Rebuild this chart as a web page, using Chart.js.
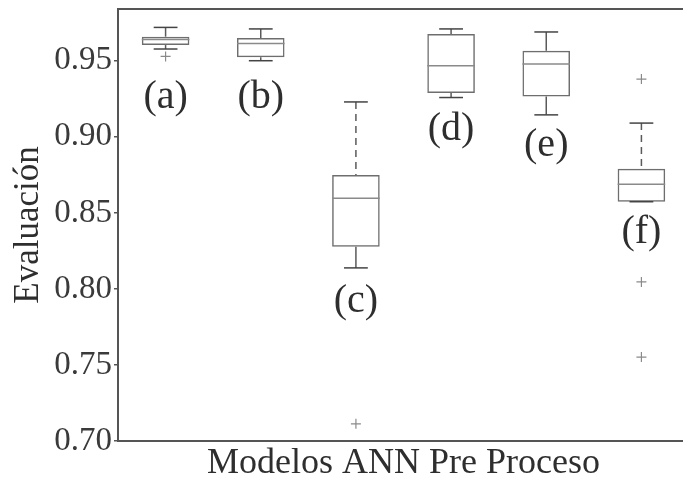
<!DOCTYPE html>
<html><head><meta charset="utf-8">
<script src="https://cdn.jsdelivr.net/npm/chart.js@4"></script>
<style>html,body{margin:0;padding:0;background:#fff;overflow:hidden}
#wrap{width:700px;height:485px;position:relative}</style>
</head><body><div id="wrap"><canvas id="c"></canvas></div>
<script>
const categories = ['(a)','(b)','(c)','(d)','(e)','(f)'];
const whiskerHigh = [0.9719,0.9709,0.9229,0.9709,0.9689,0.9090];
const q3          = [0.9658,0.9650,0.8749,0.9676,0.9566,0.8789];
const median      = [0.9640,0.9614,0.8596,0.9467,0.9478,0.8688];
const q1          = [0.9603,0.9522,0.8277,0.9287,0.9265,0.8573];
const whiskerLow  = [0.9577,0.9500,0.8138,0.9258,0.9144,0.8573];
const outliers    = [[0.9528],[],[0.7113],[],[],[0.9379,0.8046,0.7552]];
const labelAnchor = [0.919,0.919,0.7847,0.8982,0.8874,0.8301];
const yTicks = [0.70,0.75,0.80,0.85,0.90,0.95];
const yMin = 0.70, yMax = 0.984;

const serif = '"Liberation Serif", "DejaVu Serif", serif';

const outlierPoints = [];
outliers.forEach((arr,i)=>arr.forEach(v=>outlierPoints.push({x:categories[i], y:v})));

const boxPlugin = {
  id:'boxParts',
  afterDatasetsDraw(chart){
    const ctx=chart.ctx, xs=chart.scales.x, ys=chart.scales.y;
    const meta=chart.getDatasetMeta(0);
    ctx.save();
    categories.forEach((c,i)=>{
      const x=xs.getPixelForValue(i);
      const w=meta.data[i].width;
      const capHalf=w/4;
      ctx.lineWidth=1.5;
      [[q3[i],whiskerHigh[i]],[q1[i],whiskerLow[i]]].forEach(([a,b])=>{
        const ya=ys.getPixelForValue(a), yb=ys.getPixelForValue(b);
        const len=Math.abs(yb-ya);
        ctx.strokeStyle='#5a5a5a';
        if(len>0.5){
          ctx.setLineDash(len>30?[7,5]:[]);
          ctx.beginPath(); ctx.moveTo(x,yb); ctx.lineTo(x,ya); ctx.stroke();
          ctx.setLineDash([]);
        }
        ctx.strokeStyle='#444';
        ctx.beginPath(); ctx.moveTo(x-capHalf,yb); ctx.lineTo(x+capHalf,yb); ctx.stroke();
      });
      const ym=ys.getPixelForValue(median[i]);
      ctx.strokeStyle='#8a8a8a'; ctx.lineWidth=1.5;
      ctx.beginPath(); ctx.moveTo(x-w/2,ym); ctx.lineTo(x+w/2,ym); ctx.stroke();
      ctx.fillStyle='#2e2e2e';
      ctx.font='40px '+serif;
      ctx.textAlign='center'; ctx.textBaseline='alphabetic';
      ctx.fillText(c,x,ys.getPixelForValue(labelAnchor[i]));
    });
    const a=chart.chartArea;
    ctx.strokeStyle='#555'; ctx.lineWidth=2;
    ctx.strokeRect(a.left,a.top,a.right-a.left,a.bottom-a.top);
    ctx.restore();
  }
};

new Chart(document.getElementById('c'),{
  type:'bar',
  data:{
    labels:categories,
    datasets:[
      {type:'bar', data:q1.map((v,i)=>[v,q3[i]]), backgroundColor:'rgba(0,0,0,0)',
       borderColor:'#6e6e6e', borderWidth:1.5, borderSkipped:false,
       categoryPercentage:1, barPercentage:0.5},
      {type:'line', data:outlierPoints, showLine:false, pointStyle:'cross',
       pointRadius:5, pointHoverRadius:5, borderColor:'#8a8a8a', borderWidth:1.2,
       backgroundColor:'#8a8a8a'}
    ]
  },
  options:{
    responsive:true, maintainAspectRatio:false, animation:false,
    layout:{padding:{left:0,top:9,right:11,bottom:0}},
    plugins:{legend:{display:false}, tooltip:{enabled:false}},
    scales:{
      x:{type:'category', offset:true,
         grid:{display:false}, ticks:{display:false}, border:{display:false},
         title:{display:true, text:'Modelos ANN Pre Proceso', color:'#2e2e2e',
                font:{family:serif, size:36}, padding:{top:0,bottom:0}},
         afterFit:s=>{s.height=44; s.paddingLeft=0; s.paddingRight=0;}},
      y:{type:'linear', min:yMin, max:yMax,
         afterBuildTicks:s=>{s.ticks=yTicks.map(v=>({value:v}));},
         ticks:{callback:v=>Number(v).toFixed(2), color:'#3a3a3a', padding:2,
                font:{family:serif, size:33}},
         grid:{display:true, drawOnChartArea:false, drawTicks:true, tickLength:4,
               color:'#555', lineWidth:1.5},
         border:{display:false},
         title:{display:true, text:'Evaluación', color:'#2e2e2e',
                font:{family:serif, size:35}, padding:{top:8,bottom:0}},
         afterFit:s=>{s.width=118; s.paddingTop=0; s.paddingBottom=0;}}
    }
  },
  plugins:[boxPlugin]
});
</script></body></html>
